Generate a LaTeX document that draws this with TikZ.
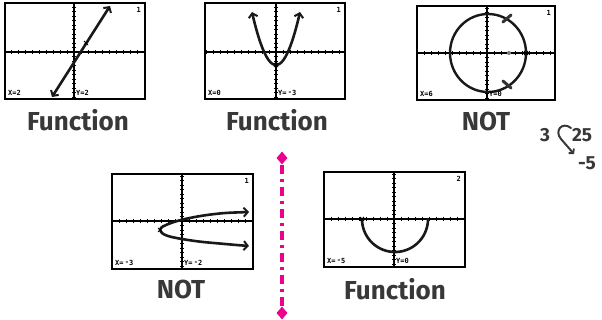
\documentclass[tikz,border=0pt]{standalone}
\usepackage{fontspec}
\newfontfamily\hand{Fira Sans}
\newfontfamily\scrfont{DejaVu Sans Mono}
\usetikzlibrary{arrows.meta,shapes.geometric}
\newcommand\tiscreen[6]{% left, top, right, bottom, axis x, axis y
  \begin{scope}
    \clip (#1,#2) rectangle (#3,#4);
    \fill[white] (#1,#2) rectangle (#3,#4);
    \draw[axisline] (#1,#6) -- (#3,#6);
    \draw[axisline] (#5,#2) -- (#5,#4);
    \foreach \t in {-20,...,20}{
      \draw[tickline] ({#5+7*\t},{#6-1.6}) -- ({#5+7*\t},{#6+1.6});
      \draw[tickline] ({#5-1.6},{#6+4.5*\t}) -- ({#5+1.6},{#6+4.5*\t});
    }
  \end{scope}
}
\begin{document}
\begin{tikzpicture}[x=1pt,y=-1pt,
  scrbox/.style={draw=black,line width=2.6pt},
  axisline/.style={line width=1.1pt},
  tickline/.style={line width=0.7pt},
  curve/.style={line width=2.6pt,line cap=round,line join=round,black!90},
  barbs/.style={arrows={Straight Barb[length=4pt,width=9pt,line width=2pt]-Straight Barb[length=4pt,width=9pt,line width=2pt]}},
  lbl/.style={font=\scrfont\bfseries\fontsize{7}{8}\selectfont,inner sep=0pt},
  hw/.style={font=\hand\bfseries\fontsize{26}{26}\selectfont,text=black!78,inner sep=0pt},
  note/.style={font=\hand\bfseries\fontsize{19}{19}\selectfont,text=black!78,inner sep=0pt},
]
\useasboundingbox (0,0) rectangle (602,320);

% ---------- screen 1 : line ----------
\tiscreen{5}{3}{145}{99}{74}{52}
\begin{scope}
  \clip (5,3) rectangle (145,99);
  \draw[curve,barbs] (52,97) -- (110,6);
  \draw[line width=0.8pt] (84,41) -- (88,45) (84,45) -- (88,41);
\end{scope}
\draw[scrbox] (5,3) rectangle (145,99);
\node[lbl,anchor=south west] (s1x) at (8,96) {X=2};
\node[lbl,anchor=south west] (s1y) at (76,96) {Y=2};
\node[lbl,anchor=north east] (s1n) at (141,7) {1};
\node[hw] (f1) at (78,120) {Function};

% ---------- screen 2 : parabola ----------
\tiscreen{205}{3}{345}{99}{276}{52}
\begin{scope}
  \clip (205,3) rectangle (345,99);
  \draw[curve,barbs] plot[domain=-24:24,samples=40,smooth] ({276+\x},{65-0.092*\x*\x});
  \draw[line width=0.8pt] (274,63) -- (278,67) (274,67) -- (278,63);
\end{scope}
\draw[scrbox] (205,3) rectangle (345,99);
\node[lbl,anchor=south west] (s2x) at (208,96) {X=0};
\node[lbl,anchor=south west] (s2y) at (278,96) {Y=\,\raisebox{1.2pt}{-}3};
\node[lbl,anchor=north east] (s2n) at (341,7) {1};
\node[hw] (f2) at (277,120) {Function};

% ---------- screen 3 : circle ----------
\tiscreen{417}{6}{555}{100}{487}{53}
\begin{scope}
  \clip (417,6) rectangle (555,100);
  \draw[curve,line width=2.4pt] (488,53) ellipse [x radius=38, y radius=39];
  \fill[black!50] (509,53) circle (2);
  \draw[line width=0.8pt] (524,51) -- (528,55) (524,55) -- (528,51);
  \draw[curve,line width=3pt,black!80] (503,22) -- (511,15);
  \draw[curve,line width=3pt,black!80] (503,81) -- (511,88);
\end{scope}
\draw[scrbox] (417,6) rectangle (555,100);
\node[lbl,anchor=south west] (s3x) at (420,97) {X=6};
\node[lbl,anchor=south west] (s3y) at (489,97) {Y=0};
\node[lbl,anchor=north east] (s3n) at (551,10) {1};
\node[hw] (n1) at (486,121) {NOT};

% ---------- note ----------
\node[note] (n3) at (545,135) {3};
\node[note] (n25) at (582,135) {25};
\node[note] (nm5) at (587,163) {-5};
\draw[line width=2pt,black!78,line cap=round,arrows={-Straight Barb[length=3pt,width=7pt,line width=1.8pt]}]
  (571,128) .. controls (562,121) and (554,131) .. (561,139) -- (574,154);

% ---------- screen 4 : sideways parabola ----------
\tiscreen{112}{174}{253}{269}{182}{221}
\begin{scope}
  \clip (112,174) rectangle (253,269);
  \draw[curve,barbs] plot[smooth,tension=0.6] coordinates
    {(249,212) (215,214) (185,219) (166,225) (160,230) (168,236) (195,241) (225,244) (249,246)};
  \draw[line width=0.8pt] (158,228) -- (162,232) (158,232) -- (162,228);
\end{scope}
\draw[scrbox] (112,174) rectangle (253,269);
\node[lbl,anchor=south west] (s4x) at (115,266) {X=\,\raisebox{1.2pt}{-}3};
\node[lbl,anchor=south west] (s4y) at (184,266) {Y=\,\raisebox{1.2pt}{-}2};
\node[lbl,anchor=north east] (s4n) at (249,178) {1};
\node[hw] (n2) at (181,289) {NOT};

% ---------- screen 5 : semicircle ----------
\tiscreen{324}{172}{465}{267}{394}{219}
\begin{scope}
  \clip (324,172) rectangle (465,267);
  \draw[curve] plot[domain=0:180,samples=60] ({395+33*cos(\x)},{219+33*sin(\x)});
  \draw[line width=0.8pt] (360,217) -- (364,221) (360,221) -- (364,217);
\end{scope}
\draw[scrbox] (324,172) rectangle (465,267);
\node[lbl,anchor=south west] (s5x) at (327,264) {X=\,\raisebox{1.2pt}{-}5};
\node[lbl,anchor=south west] (s5y) at (396,264) {Y=0};
\node[lbl,anchor=north east] (s5n) at (461,176) {2};
\node[hw] (f5) at (395,289) {Function};

% ---------- magenta divider ----------
\node[diamond,fill=magenta,minimum width=11pt,minimum height=13pt,inner sep=0pt] (dtop) at (282,158) {};
\node[diamond,fill=magenta,minimum width=11pt,minimum height=13pt,inner sep=0pt] (dbot) at (282,313) {};
\draw[magenta,line width=4pt,dash pattern=on 9pt off 5pt on 3pt off 5pt] (dtop) -- (dbot);
\end{tikzpicture}
\end{document}
